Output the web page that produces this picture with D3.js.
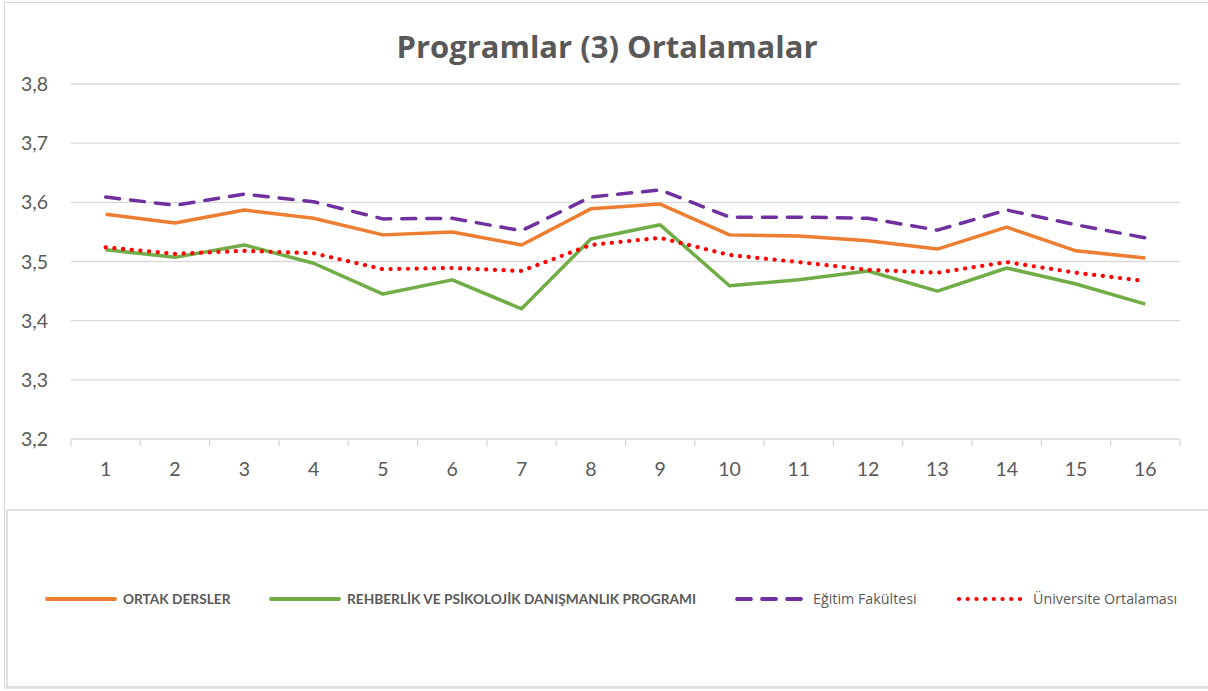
<!DOCTYPE html>
<html>
<head>
<meta charset="utf-8">
<script src="https://cdn.jsdelivr.net/npm/d3@7"></script>
<style>
  body { margin: 0; background: #fff; }
  text { font-family: Lato, "Open Sans", sans-serif; fill: #595959; }
</style>
</head>
<body>
<svg id="chart" width="1208" height="691"></svg>
<script>
// data
var categories = ["1","2","3","4","5","6","7","8","9","10","11","12","13","14","15","16"];
var ortakDersler = [3.580,3.565,3.587,3.573,3.545,3.550,3.528,3.589,3.597,3.545,3.543,3.535,3.521,3.558,3.518,3.506];
var rehberlik    = [3.520,3.507,3.528,3.497,3.445,3.469,3.420,3.538,3.562,3.459,3.469,3.484,3.450,3.489,3.462,3.428];
var egitimFak    = [3.609,3.595,3.614,3.601,3.572,3.573,3.552,3.609,3.621,3.575,3.575,3.573,3.553,3.587,3.562,3.540];
var universite   = [3.524,3.513,3.518,3.514,3.487,3.489,3.484,3.528,3.540,3.511,3.499,3.486,3.481,3.499,3.481,3.467];
var yTicks = [3.2,3.3,3.4,3.5,3.6,3.7,3.8];
var seriesNames = ["ORTAK DERSLER","REHBERLİK VE PSİKOLOJİK DANIŞMANLIK PROGRAMI","Eğitim Fakültesi","Üniversite Ortalaması"];

var series = [
  {name: seriesNames[0], values: ortakDersler, color: "#ED7D31", dash: null, bold: true, lx: 47, tx: 123},
  {name: seriesNames[1], values: rehberlik, color: "#70AD47", dash: null, bold: true, lx: 271, tx: 347},
  {name: seriesNames[2], values: egitimFak, color: "#7030A0", dash: "14 11", bold: false, lx: 737, tx: 813},
  {name: seriesNames[3], values: universite, color: "#FF0000", dash: "0.1 8.6", bold: false, lx: 959, tx: 1033}
];

var svg = d3.select("#chart");

// frames
svg.append("rect").attr("x", 4.5).attr("y", 2.5).attr("width", 1210).attr("height", 685.5)
  .attr("fill", "none").attr("stroke", "#D9D9D9").attr("stroke-width", 1.2);
svg.append("rect").attr("x", 7).attr("y", 510).attr("width", 1210).attr("height", 177)
  .attr("fill", "none").attr("stroke", "#D9D9D9").attr("stroke-width", 1.5);

var x = d3.scaleBand().domain(categories).range([71, 1180]);
var y = d3.scaleLinear().domain([3.2, 3.8]).range([439, 84]);

// title
svg.append("text").attr("x", 607).attr("y", 58).attr("text-anchor", "middle")
  .style("font-family", "'Open Sans', sans-serif")
  .style("font-size", "31px").style("font-weight", "bold")
  .text("Programlar (3) Ortalamalar");

// grid
svg.append("g").selectAll("line").data(yTicks).enter().append("line")
  .attr("x1", 71).attr("x2", 1180)
  .attr("y1", function(d){ return y(d); }).attr("y2", function(d){ return y(d); })
  .attr("stroke", "#D9D9D9").attr("stroke-width", 1.3);

// y labels
svg.append("g").selectAll("text").data(yTicks).enter().append("text")
  .attr("x", 48).attr("y", function(d){ return y(d) + 7; })
  .attr("text-anchor", "end").style("font-size", "19.5px")
  .text(function(d){ return d3.format(".1f")(d).replace(".", ","); });

// x axis ticks at band edges
var edges = categories.map(function(c){ return x(c); }).concat([x.range()[1]]);
svg.append("g").selectAll("line").data(edges).enter().append("line")
  .attr("x1", function(d){ return d; }).attr("x2", function(d){ return d; })
  .attr("y1", 439).attr("y2", 446)
  .attr("stroke", "#D9D9D9").attr("stroke-width", 1.3);

svg.append("g").selectAll("text").data(categories).enter().append("text")
  .attr("x", function(d){ return x(d) + x.bandwidth() / 2; }).attr("y", 476)
  .attr("text-anchor", "middle").style("font-size", "19.5px")
  .text(function(d){ return d; });

// lines
var line = d3.line()
  .x(function(d, i){ return x(categories[i]) + x.bandwidth() / 2; })
  .y(function(d){ return y(d); });

series.forEach(function(s){
  svg.append("path").datum(s.values)
    .attr("d", line)
    .attr("fill", "none")
    .attr("stroke", s.color)
    .attr("stroke-width", s.dash === "0.1 8.6" ? 4.2 : 3.5)
    .attr("stroke-linejoin", "round")
    .attr("stroke-linecap", s.dash ? "round" : "butt")
    .attr("stroke-dasharray", s.dash);
});

// legend
var legY = 599;
series.forEach(function(s){
  svg.append("line")
    .attr("x1", s.lx).attr("x2", s.lx + (s.dash === "0.1 8.6" ? 62 : 68))
    .attr("y1", legY).attr("y2", legY)
    .attr("stroke", s.color)
    .attr("stroke-width", s.dash === "0.1 8.6" ? 4.2 : 3.8)
    .attr("stroke-linecap", "round")
    .attr("stroke-dasharray", s.dash);
  svg.append("text").attr("x", s.tx).attr("y", legY + 5)
    .style("font-family", s.bold ? "Lato, sans-serif" : "'Open Sans', sans-serif")
    .style("font-size", s.bold ? "13.7px" : "14.3px")
    .style("font-weight", s.bold ? "bold" : "normal")
    .text(s.name);
});
</script>
</body>
</html>
